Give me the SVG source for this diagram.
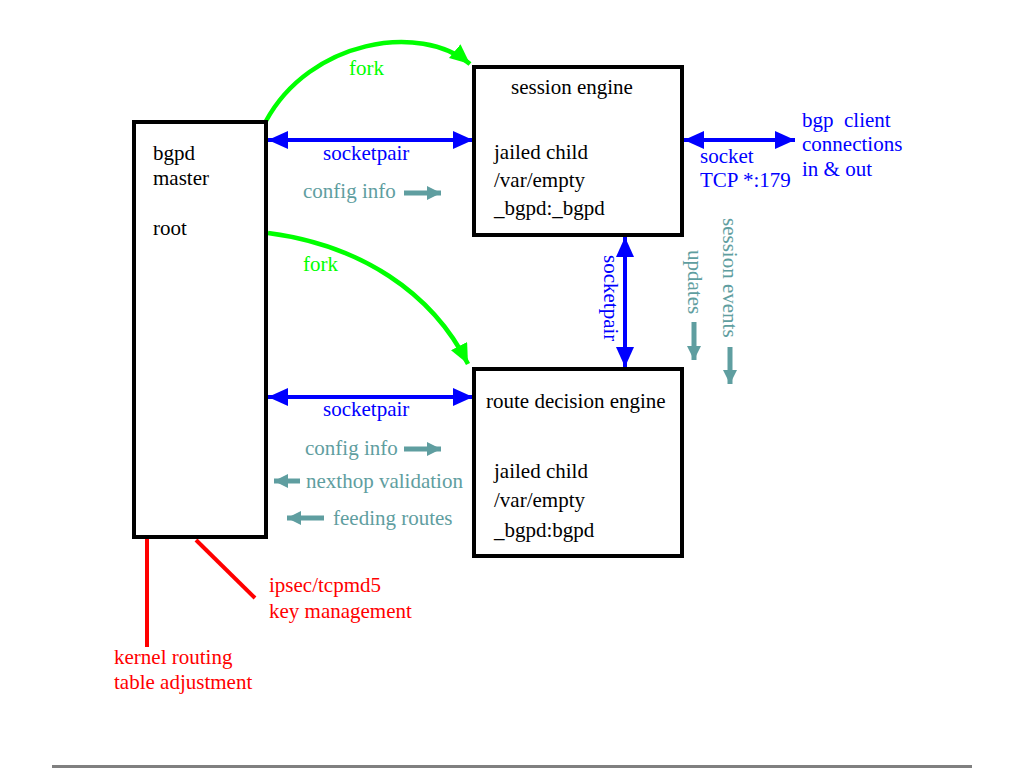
<svg xmlns="http://www.w3.org/2000/svg" width="1024" height="768" viewBox="0 0 1024 768">
<style>
text{font-family:"Liberation Serif","Times New Roman",serif;font-size:21px}
.k{fill:#000}
.b{fill:#0000ff}
.t{fill:#5f9ea0}
.g{fill:#00ff00}
.r{fill:#ff0000}
.box{fill:#fff;stroke:#000;stroke-width:4}
.bl{stroke:#0000ff;stroke-width:4;fill:none}
.tl{stroke:#5f9ea0;stroke-width:5;fill:none}
.gl{stroke:#00ff00;stroke-width:4.5;fill:none}
.rl{stroke:#ff0000;stroke-width:4;fill:none}
</style>
<defs>
<marker id="bh" markerUnits="userSpaceOnUse" markerWidth="22" markerHeight="18" refX="20" refY="9" orient="auto-start-reverse"><path d="M0,0 L20,9 L0,18 Z" fill="#0000ff"/></marker>
<marker id="th" markerUnits="userSpaceOnUse" markerWidth="16" markerHeight="14" refX="14" refY="7" orient="auto"><path d="M0,0 L14,7 L0,14 Z" fill="#5f9ea0"/></marker>
<marker id="gh" markerUnits="userSpaceOnUse" markerWidth="22" markerHeight="18" refX="20" refY="9" orient="auto"><path d="M0,0 L20,9 L0,18 Z" fill="#00ff00"/></marker>
</defs>
<rect width="1024" height="768" fill="#fff"/>
<g id="connectors">
<path class="gl" d="M266,121 C310,40 420,22 470,64" marker-end="url(#gh)"/>
<path class="gl" d="M268,233 C360,245 432,292 468,364" marker-end="url(#gh)"/>
<line class="bl" x1="268" y1="140" x2="473" y2="140" marker-start="url(#bh)" marker-end="url(#bh)"/>
<line class="bl" x1="268" y1="397" x2="473" y2="397" marker-start="url(#bh)" marker-end="url(#bh)"/>
<line class="bl" x1="684" y1="140" x2="795" y2="140" marker-start="url(#bh)" marker-end="url(#bh)"/>
<line class="bl" x1="625" y1="237" x2="625" y2="367" marker-start="url(#bh)" marker-end="url(#bh)"/>
<line class="tl" x1="404" y1="193" x2="441" y2="193" marker-end="url(#th)"/>
<line class="tl" x1="404" y1="449" x2="441" y2="449" marker-end="url(#th)"/>
<line class="tl" x1="300" y1="481" x2="274" y2="481" marker-end="url(#th)"/>
<line class="tl" x1="324" y1="518" x2="287" y2="518" marker-end="url(#th)"/>
<line class="tl" x1="694" y1="322" x2="694" y2="360" marker-end="url(#th)"/>
<line class="tl" x1="730" y1="347" x2="730" y2="384" marker-end="url(#th)"/>
<line class="rl" x1="147" y1="537" x2="147" y2="647"/>
<line class="rl" x1="196" y1="540" x2="255" y2="598"/>
</g>
<g id="master">
<rect class="box" x="134" y="122" width="132" height="415"/>
<text class="k" x="153" y="160">bgpd</text>
<text class="k" x="153" y="185">master</text>
<text class="k" x="153" y="235">root</text>
</g>
<g id="session">
<rect class="box" x="474" y="67" width="208" height="168"/>
<text class="k" x="511" y="94">session engine</text>
<text class="k" x="494" y="159">jailed child</text>
<text class="k" x="494" y="187">/var/empty</text>
<text class="k" x="494" y="215">_bgpd:_bgpd</text>
</g>
<g id="rde">
<rect class="box" x="474" y="369" width="208" height="187"/>
<text class="k" x="486" y="408">route decision engine</text>
<text class="k" x="494" y="478">jailed child</text>
<text class="k" x="494" y="507">/var/empty</text>
<text class="k" x="494" y="537">_bgpd:bgpd</text>
</g>
<g id="labels">
<text class="g" x="349" y="75">fork</text>
<text class="g" x="303" y="271">fork</text>
<text class="b" x="323" y="160">socketpair</text>
<text class="b" x="323" y="416">socketpair</text>
<text class="t" x="303" y="198">config info</text>
<text class="t" x="305" y="455">config info</text>
<text class="t" x="306" y="488">nexthop validation</text>
<text class="t" x="333" y="525">feeding routes</text>
<text class="b" x="700" y="163">socket</text>
<text class="b" x="700" y="187">TCP *:179</text>
<text class="b" x="802" y="127" xml:space="preserve">bgp  client</text>
<text class="b" x="802" y="151">connections</text>
<text class="b" x="802" y="176">in &amp; out</text>
<text class="b" transform="translate(604,255) rotate(90)">socketpair</text>
<text class="t" transform="translate(688,250) rotate(90)">updates</text>
<text class="t" transform="translate(723,218) rotate(90)">session events</text>
<text class="r" x="269" y="592">ipsec/tcpmd5</text>
<text class="r" x="269" y="618">key management</text>
<text class="r" x="114" y="664">kernel routing</text>
<text class="r" x="114" y="689">table adjustment</text>
</g>
<line x1="52" y1="766.5" x2="972" y2="766.5" stroke="#808080" stroke-width="3"/>
</svg>
